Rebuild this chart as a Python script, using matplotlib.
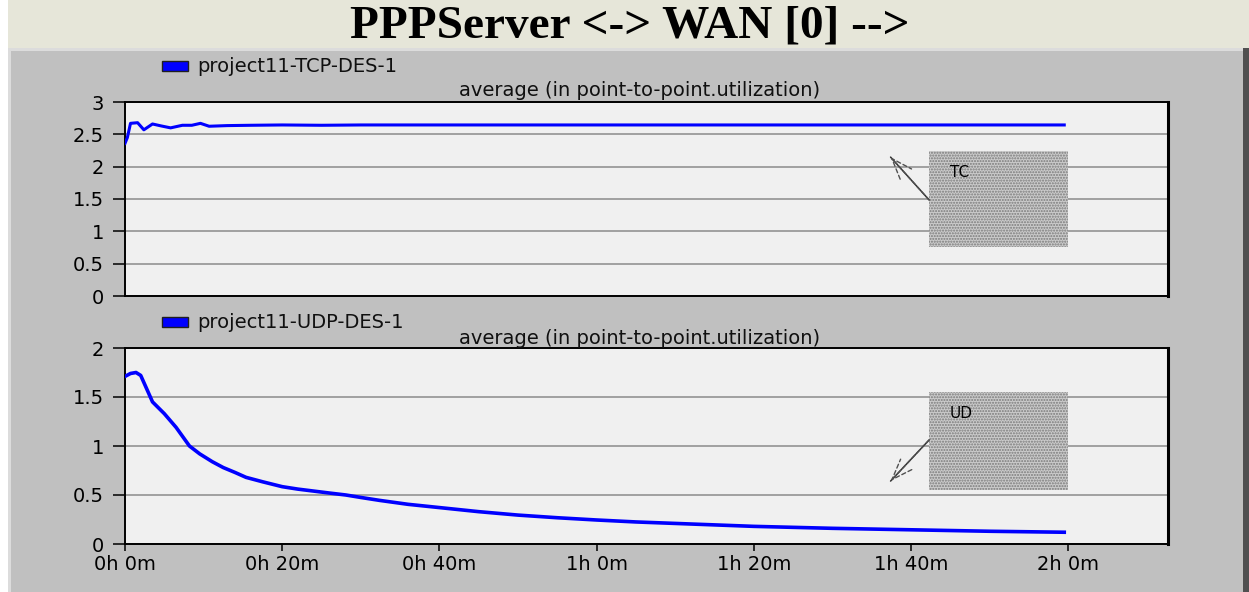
"""PPPServer <-> WAN [0] point-to-point utilization, TCP vs UDP runs."""
import matplotlib

matplotlib.use("Agg")
import matplotlib.pyplot as plt
from matplotlib.patches import Rectangle

# time in minutes, average utilization
TCP_T = [0, 0.3, 0.7, 1.6, 2.4, 3.5, 4.6, 5.8, 7.3, 8.5, 9.6, 10.7, 13, 16,
         20, 25, 30, 40, 50, 60, 70, 80, 90, 100, 110, 119.5]
TCP_V = [2.36, 2.45, 2.67, 2.68, 2.57, 2.66, 2.63, 2.60, 2.64, 2.64, 2.67, 2.625,
         2.635, 2.64, 2.645, 2.64, 2.645, 2.645, 2.645, 2.645, 2.645, 2.645,
         2.645, 2.645, 2.645, 2.645]

UDP_T = [0, 0.7, 1.4, 2.0, 3.5, 5.0, 6.5, 8.2, 9.5, 11.1, 12.5, 14, 15.4, 17.5,
         20, 22, 24, 26, 28.1, 30, 32.4, 36, 40.2, 45, 50, 55, 60, 65, 70, 75,
         80, 90, 100, 110, 119.5]
UDP_V = [1.71, 1.74, 1.75, 1.72, 1.45, 1.33, 1.19, 1.0, 0.92, 0.84, 0.78, 0.73,
         0.68, 0.635, 0.585, 0.56, 0.54, 0.52, 0.50, 0.475, 0.445, 0.405, 0.37,
         0.33, 0.295, 0.268, 0.245, 0.225, 0.21, 0.195, 0.18, 0.16, 0.145, 0.13,
         0.12]

X_TICKS = [0, 20, 40, 60, 80, 100, 120]
X_LABELS = ["0h 0m", "0h 20m", "0h 40m", "1h 0m", "1h 20m", "1h 40m", "2h 0m"]
TCP_YTICKS = [0, 0.5, 1, 1.5, 2, 2.5, 3]
UDP_YTICKS = [0, 0.5, 1, 1.5, 2]
X_MAX = 132.7

TITLE = "PPPServer <-> WAN [0] -->"
SUBTITLE = "average (in point-to-point.utilization)"
BLUE = "#0000ff"
PANEL = "#c0c0c0"

W, H = 1249, 592
fig = plt.figure(figsize=(W / 100, H / 100), dpi=100, facecolor="white")


def px_rect(x0, y0, x1, y1, **kw):
    # rectangle given in image pixels (y down)
    fig.patches.append(Rectangle((x0 / W, 1 - y1 / H), (x1 - x0) / W, (y1 - y0) / H,
                                 transform=fig.transFigure, zorder=-5, **kw))


px_rect(8, 0, W, 48, facecolor="#e6e6d9", lw=0)
px_rect(8, 48, 1244, H, facecolor=PANEL, lw=0)
px_rect(8, 48, 1244, 51, facecolor="#dcdcdc", lw=0)
px_rect(8, 48, 11, H, facecolor="#dcdcdc", lw=0)
px_rect(1243, 48, W, H, facecolor="#505050", lw=0)

fig.text(630 / W, 1 - 27 / H, TITLE, ha="center", va="center",
         family="Liberation Serif", weight="bold", fontsize=34)


def make_axes(top_px, bot_px):
    ax = fig.add_axes([125 / W, 1 - bot_px / H, (1168 - 125) / W, (bot_px - top_px) / H])
    ax.set_facecolor("#f0f0f0")
    ax.set_xlim(0, X_MAX)
    for s in ax.spines.values():
        s.set_color("black")
        s.set_linewidth(1.4)
    ax.spines["right"].set_linewidth(2.2)
    ax.yaxis.grid(True, color="#a0a0a0", lw=1.4)
    ax.set_axisbelow(True)
    ax.tick_params(axis="y", direction="out", length=9, width=1.1, pad=6,
                   labelsize=14, labelfontfamily="DejaVu Sans")
    return ax


def yfmt(v):
    return f"{v:g}"


def legend_and_subtitle(y_leg, y_sub, name):
    fig.patches.append(Rectangle((162 / W, 1 - (y_leg + 5) / H), 26 / W, 10 / H,
                                 transform=fig.transFigure, facecolor=BLUE,
                                 edgecolor="#202020", lw=1))
    fig.text(197 / W, 1 - y_leg / H, name, ha="left", va="center",
             family="DejaVu Sans", fontsize=14, color="#101010")
    fig.text(640 / W, 1 - y_sub / H, SUBTITLE, ha="center", va="center",
             family="DejaVu Sans", fontsize=14, color="#101010")


def noise_box(ax, label, y_top, y_bot, y_lab, arrow_from, arrow_to):
    ax.add_patch(Rectangle((0.771, y_bot), 0.133, y_top - y_bot,
                           transform=ax.transAxes, facecolor="#cbcbcb",
                           edgecolor="#7a7a7a", hatch="......", lw=0, zorder=3))
    ax.text(0.791, y_lab, label, transform=ax.transAxes, fontsize=11,
            family="DejaVu Sans", va="center", ha="left", zorder=4)
    # solid shaft, dashed head drawn over it
    ax.annotate("", xy=arrow_to, xytext=arrow_from, xycoords="axes fraction",
                textcoords="axes fraction", zorder=4,
                arrowprops=dict(arrowstyle="-", color="#303030", lw=1.1,
                                shrinkA=0, shrinkB=0))
    ax.annotate("", xy=arrow_to, xytext=arrow_from, xycoords="axes fraction",
                textcoords="axes fraction", zorder=4,
                arrowprops=dict(arrowstyle="->,head_length=1.5,head_width=0.55",
                                color="#505050", lw=1.0, linestyle=(0, (3, 2)),
                                shrinkA=0, shrinkB=0))


# --- TCP panel ---
ax1 = make_axes(102, 296)
ax1.plot(TCP_T, TCP_V, color=BLUE, lw=2.2, zorder=5)
ax1.set_ylim(0, 3)
ax1.set_yticks(TCP_YTICKS, [yfmt(v) for v in TCP_YTICKS])
ax1.set_xticks([])
legend_and_subtitle(66, 91, "project11-TCP-DES-1")
noise_box(ax1, "TC", 0.747, 0.253, 0.639, (0.771, 0.495), (0.734, 0.716))

# --- UDP panel ---
ax2 = make_axes(348, 544)
ax2.plot(UDP_T, UDP_V, color=BLUE, lw=2.6, zorder=5)
ax2.set_ylim(0, 2)
ax2.set_yticks(UDP_YTICKS, [yfmt(v) for v in UDP_YTICKS])
ax2.set_xticks(X_TICKS, X_LABELS)
ax2.tick_params(axis="x", direction="out", length=5, width=1.1, pad=3,
                labelsize=14, labelfontfamily="DejaVu Sans")
legend_and_subtitle(322, 338, "project11-UDP-DES-1")
noise_box(ax2, "UD", 0.776, 0.276, 0.668, (0.771, 0.531), (0.734, 0.321))

fig.savefig("out.png", dpi=100, facecolor=fig.get_facecolor())
